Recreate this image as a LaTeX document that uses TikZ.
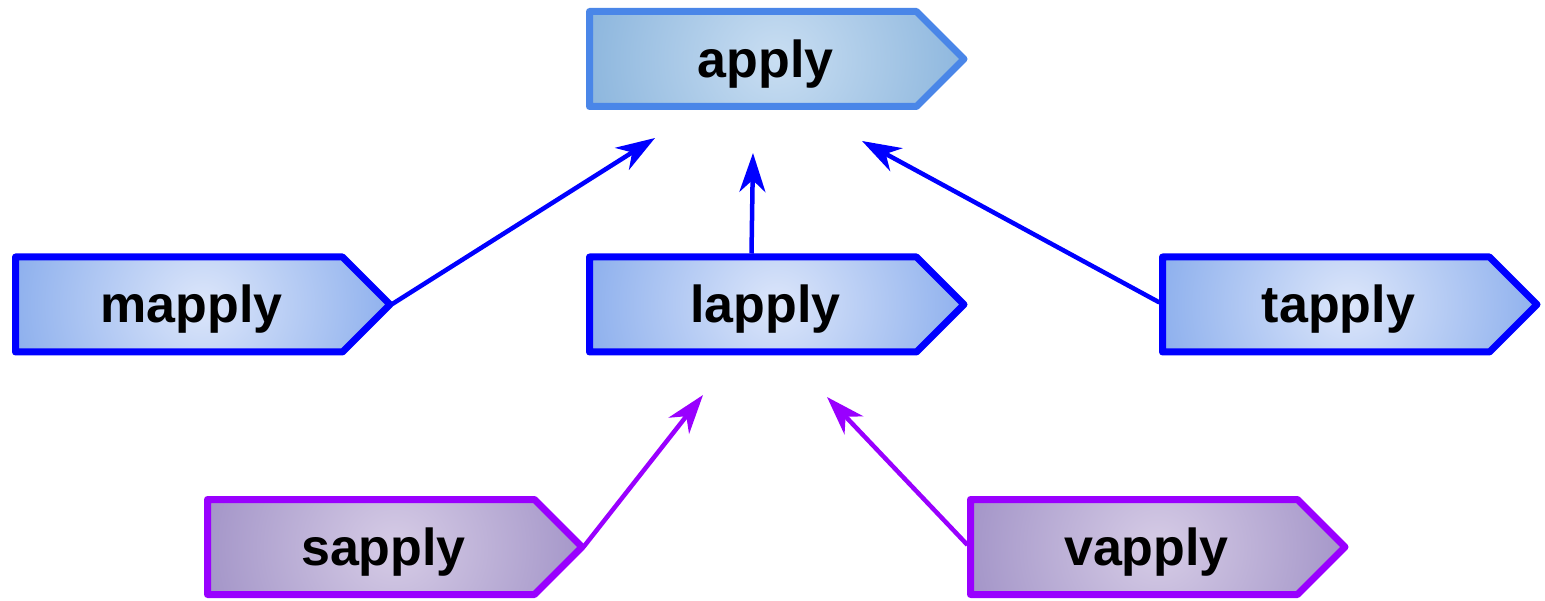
\documentclass[tikz,border=0pt]{standalone}
\usepackage{fontspec}
\setmainfont{Liberation Sans}
\usetikzlibrary{arrows.meta}
\definecolor{apin}{HTML}{C9DEF2}
\definecolor{apout}{HTML}{74A6D5}
\definecolor{apline}{HTML}{4A86E8}
\definecolor{blin}{HTML}{DCE6FA}
\definecolor{blout}{HTML}{6E9AE8}
\definecolor{blline}{HTML}{0000FF}
\definecolor{puin}{HTML}{D6CCE6}
\definecolor{puout}{HTML}{8F7FBC}
\definecolor{puline}{HTML}{9900FF}
\pgfdeclareradialshading{aprad}{\pgfpoint{0bp}{0bp}}{color(0bp)=(apin); color(36bp)=(apout); color(72bp)=(apout)}
\pgfdeclareradialshading{blrad}{\pgfpoint{0bp}{0bp}}{color(0bp)=(blin); color(36bp)=(blout); color(72bp)=(blout)}
\pgfdeclareradialshading{purad}{\pgfpoint{0bp}{0bp}}{color(0bp)=(puin); color(36bp)=(puout); color(72bp)=(puout)}
\tikzset{
  circshade/.code={\pgfsetadditionalshadetransform{\pgftransformyscale{3.7}}},
  apbox/.style={shading=aprad, circshade, draw=apline, line width=7pt, line join=round},
  blbox/.style={shading=blrad, circshade, draw=blline, line width=7pt, line join=round},
  pubox/.style={shading=purad, circshade, draw=puline, line width=7pt, line join=round},
  lbl/.style={font=\fontsize{52}{60}\selectfont\bfseries, inner sep=0pt},
  conn/.style={line width=4.5pt, -{Stealth[length=39pt, width=26pt, inset=12pt]}},
  blconn/.style={conn, draw=blline, fill=blline},
  puconn/.style={conn, draw=puline, fill=puline}
}
\newcommand\sigbox[5]{%
  \shadedraw[#4] (#2,#3-47.5) -- ++(327,0) -- ++(47.5,47.5) -- ++(-47.5,47.5) -- ++(-327,0) -- cycle;
  \node[lbl] (#1) at (#2+176,#3+5) {#5};
  \coordinate (#1-tip) at (#2+376,#3);
  \coordinate (#1-w) at (#2-3,#3-2);
  \coordinate (#1-n) at (#2+162,#3-51);
}
\begin{document}
\begin{tikzpicture}[x=1pt,y=-1pt]
\useasboundingbox (0,0) rectangle (1545,601);
\sigbox{apply}{589.5}{59}{apbox}{apply}
\sigbox{mapply}{15.5}{304.5}{blbox}{mapply}
\sigbox{lapply}{589.5}{304.5}{blbox}{lapply}
\sigbox{tapply}{1162.5}{304.5}{blbox}{tapply}
\sigbox{sapply}{207.5}{547}{pubox}{sapply}
\sigbox{vapply}{970.5}{547}{pubox}{vapply}
\coordinate (e1) at (655,138);
\coordinate (e2) at (753,153);
\coordinate (e3) at (862,141);
\coordinate (e4) at (703,395);
\coordinate (e5) at (827,397);
\draw[blconn] (mapply-tip) -- (e1);
\draw[blconn] (lapply-n) -- (e2);
\draw[blconn] (tapply-w) -- (e3);
\draw[puconn] (sapply-tip) -- (e4);
\draw[puconn] (vapply-w) -- (e5);
\end{tikzpicture}
\end{document}
